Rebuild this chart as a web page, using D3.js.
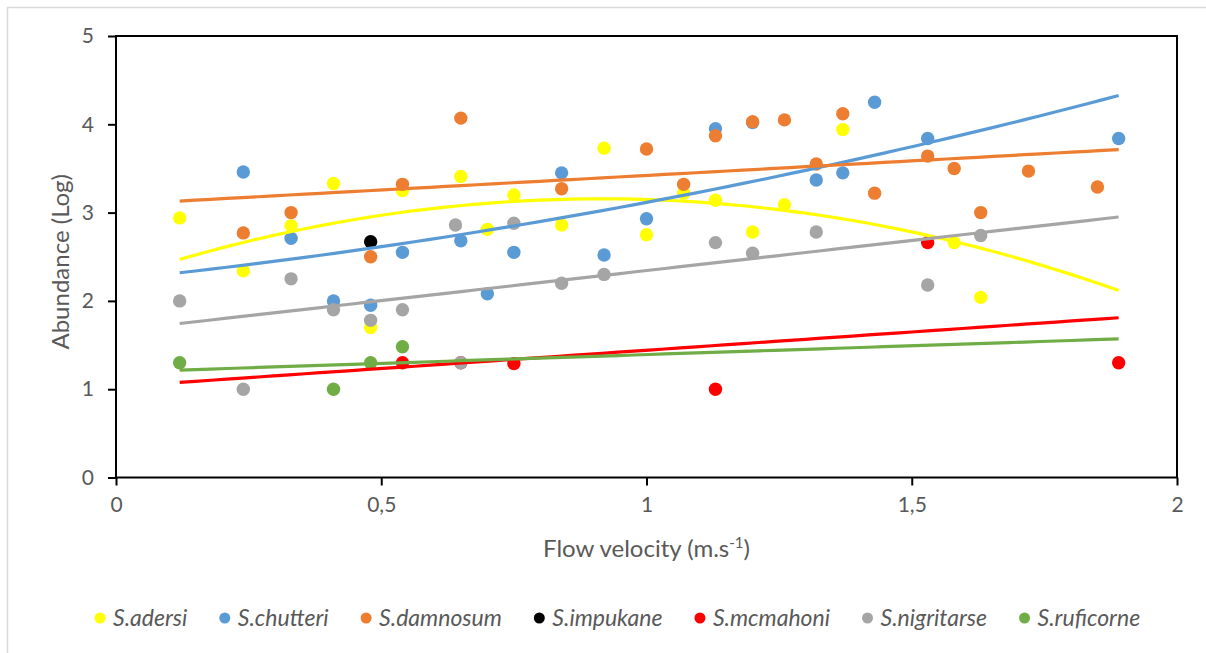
<!DOCTYPE html>
<html>
<head>
<meta charset="utf-8">
<script src="https://cdn.jsdelivr.net/npm/d3@7"></script>
<style>
  html, body { margin: 0; padding: 0; background: #ffffff; }
  svg { display: block; }
  text { font-family: Lato, "Open Sans", sans-serif; fill: #595959; }
</style>
</head>
<body>
<svg id="chart" width="1206" height="653"></svg>
<script>
// Flow velocity (m/s) and log abundance for each Simulium species
const adersiX = [0.12, 0.24, 0.33, 0.41, 0.48, 0.54, 0.65, 0.70, 0.75, 0.84, 0.92, 1.00, 1.07, 1.13, 1.20, 1.26, 1.37, 1.58, 1.63];
const adersiY = [2.94, 2.34, 2.85, 3.33, 1.70, 3.25, 3.41, 2.81, 3.20, 2.86, 3.73, 2.75, 3.22, 3.14, 2.78, 3.09, 3.94, 2.66, 2.04];

const chutteriX = [0.24, 0.33, 0.41, 0.48, 0.54, 0.65, 0.70, 0.75, 0.84, 0.92, 1.00, 1.13, 1.20, 1.32, 1.37, 1.43, 1.53, 1.89];
const chutteriY = [3.46, 2.71, 2.00, 1.95, 2.55, 2.68, 2.08, 2.55, 3.45, 2.52, 2.93, 3.95, 4.02, 3.37, 3.45, 4.25, 3.84, 3.84];

const damnosumX = [0.24, 0.33, 0.48, 0.54, 0.65, 0.84, 1.00, 1.07, 1.13, 1.20, 1.26, 1.32, 1.37, 1.43, 1.53, 1.58, 1.63, 1.72, 1.85];
const damnosumY = [2.77, 3.00, 2.50, 3.32, 4.07, 3.27, 3.72, 3.32, 3.87, 4.03, 4.05, 3.55, 4.12, 3.22, 3.64, 3.50, 3.00, 3.47, 3.29];

const impukaneX = [0.48];
const impukaneY = [2.67];

const mcmahoniX = [0.54, 0.65, 0.75, 1.13, 1.53, 1.89];
const mcmahoniY = [1.30, 1.30, 1.29, 1.00, 2.66, 1.30];

const nigritarseX = [0.12, 0.24, 0.33, 0.41, 0.48, 0.54, 0.64, 0.65, 0.75, 0.84, 0.92, 1.13, 1.20, 1.32, 1.53, 1.63];
const nigritarseY = [2.00, 1.00, 2.25, 1.90, 1.78, 1.90, 2.86, 1.30, 2.88, 2.20, 2.30, 2.66, 2.54, 2.78, 2.18, 2.74];

const ruficorneX = [0.12, 0.41, 0.48, 0.54];
const ruficorneY = [1.30, 1.00, 1.30, 1.48];

const speciesNames = ["S.adersi", "S.chutteri", "S.damnosum", "S.impukane", "S.mcmahoni", "S.nigritarse", "S.ruficorne"];
const speciesColors = ["#FFFF00", "#5B9BD5", "#ED7D31", "#000000", "#FF0000", "#A5A5A5", "#70AD47"];
// trend model per species: quadratic, linear, or none
const trendTypes = ["poly2", "poly2", "linear", "none", "linear", "linear", "linear"];

const xTickValues = [0, 0.5, 1, 1.5, 2];
const xTickLabels = ["0", "0,5", "1", "1,5", "2"];
const yTickValues = [0, 1, 2, 3, 4, 5];
const yTickLabels = ["0", "1", "2", "3", "4", "5"];

const seriesX = [adersiX, chutteriX, damnosumX, impukaneX, mcmahoniX, nigritarseX, ruficorneX];
const seriesY = [adersiY, chutteriY, damnosumY, impukaneY, mcmahoniY, nigritarseY, ruficorneY];

const series = speciesNames.map((name, i) => ({
  name,
  color: speciesColors[i],
  trend: trendTypes[i],
  points: seriesX[i].map((x, j) => ({ x, y: seriesY[i][j] }))
}));

// ---- least-squares fits ----
function fitLinear(pts) {
  const mx = d3.mean(pts, p => p.x), my = d3.mean(pts, p => p.y);
  let sxy = 0, sxx = 0;
  pts.forEach(p => { sxy += (p.x - mx) * (p.y - my); sxx += (p.x - mx) ** 2; });
  const b = sxy / sxx, a = my - b * mx;
  return x => a + b * x;
}
function fitPoly2(pts) {
  // normal equations for y = c0 + c1 x + c2 x^2
  const S = k => d3.sum(pts, p => p.x ** k);
  const T = k => d3.sum(pts, p => p.y * p.x ** k);
  const A = [[S(0), S(1), S(2)], [S(1), S(2), S(3)], [S(2), S(3), S(4)]];
  const B = [T(0), T(1), T(2)];
  for (let i = 0; i < 3; i++) {
    for (let r = i + 1; r < 3; r++) {
      const f = A[r][i] / A[i][i];
      for (let c = i; c < 3; c++) A[r][c] -= f * A[i][c];
      B[r] -= f * B[i];
    }
  }
  const c = [0, 0, 0];
  for (let i = 2; i >= 0; i--) {
    let s = B[i];
    for (let k = i + 1; k < 3; k++) s -= A[i][k] * c[k];
    c[i] = s / A[i][i];
  }
  return x => c[0] + c[1] * x + c[2] * x * x;
}
const fitters = { linear: fitLinear, poly2: fitPoly2 };

// ---- layout ----
const svg = d3.select("#chart");
const plot = { left: 116, right: 1177, top: 36, bottom: 477.5 };

const x = d3.scaleLinear().domain([0, 2]).range([plot.left, plot.right]);
const y = d3.scaleLinear().domain([0, 5]).range([plot.bottom, plot.top]);

// chart area outline
svg.append("rect")
  .attr("x", 7.5).attr("y", 7.5)
  .attr("width", 1300).attr("height", 700)
  .attr("fill", "#ffffff")
  .attr("stroke", "#d9d9d9").attr("stroke-width", 1.5);

// axes
const xAxis = d3.axisBottom(x)
  .tickValues(xTickValues)
  .tickFormat((d, i) => xTickLabels[i])
  .tickSize(8).tickPadding(12);
const yAxis = d3.axisLeft(y)
  .tickValues(yTickValues)
  .tickFormat((d, i) => yTickLabels[i])
  .tickSize(8).tickPadding(14);

const gx = svg.append("g").attr("transform", `translate(0,${plot.bottom})`).call(xAxis);
const gy = svg.append("g").attr("transform", `translate(${plot.left},0)`).call(yAxis);
[gx, gy].forEach(g => {
  g.select(".domain").remove();
  g.selectAll(".tick line").attr("stroke", "#000").attr("stroke-width", 2);
  g.selectAll(".tick text")
    .attr("fill", "#595959")
    .style("font-size", "21px")
    .style("font-family", "Lato, 'Open Sans', sans-serif");
});

// plot frame
svg.append("rect")
  .attr("x", plot.left).attr("y", plot.top)
  .attr("width", plot.right - plot.left).attr("height", plot.bottom - plot.top)
  .attr("fill", "none").attr("stroke", "#000").attr("stroke-width", 2);

// scatter points, in series order
const allPts = series.flatMap(s => s.points);
const xExtent = d3.extent(allPts, p => p.x);

series.forEach(s => {
  svg.append("g").selectAll("circle")
    .data(s.points)
    .join("circle")
    .attr("cx", d => x(d.x))
    .attr("cy", d => y(d.y))
    .attr("r", 6.7)
    .attr("fill", s.color);
});

// trend lines drawn over the markers, across the full velocity range
const line = d3.line().x(d => x(d.x)).y(d => y(d.y));
series.forEach(s => {
  if (s.trend === "none") return;
  const f = fitters[s.trend](s.points);
  const n = 60;
  const samples = d3.range(n + 1).map(i => {
    const vx = xExtent[0] + (xExtent[1] - xExtent[0]) * i / n;
    return { x: vx, y: f(vx) };
  });
  svg.append("path")
    .datum(samples)
    .attr("d", line)
    .attr("fill", "none")
    .attr("stroke", s.color)
    .attr("stroke-width", 3.2);
});

// axis titles
const xTitle = svg.append("text")
  .attr("x", (plot.left + plot.right) / 2)
  .attr("y", 557)
  .attr("text-anchor", "middle")
  .style("font-size", "24px");
xTitle.append("tspan").text("Flow velocity (m.s");
xTitle.append("tspan").text("-1").style("font-size", "15px").attr("dy", -9);
xTitle.append("tspan").text(")").attr("dy", 9);

svg.append("text")
  .attr("transform", `translate(69,${(plot.top + plot.bottom) / 2 + 5}) rotate(-90)`)
  .attr("text-anchor", "middle")
  .style("font-size", "24px")
  .text("Abundance (Log)");

// legend: marker, label, then a fixed gap before the next entry
const legend = svg.append("g").attr("transform", "translate(100,618)");
let cursor = 0;
series.forEach(s => {
  const item = legend.append("g").attr("transform", `translate(${cursor},0)`);
  item.append("circle").attr("cx", 0).attr("cy", 0).attr("r", 5.5).attr("fill", s.color);
  const t = item.append("text")
    .attr("x", 13).attr("y", 8)
    .style("font-size", "23px").style("font-style", "italic")
    .text(s.name);
  cursor += 13 + t.node().getComputedTextLength() + 37.5;
});
</script>
</body>
</html>
